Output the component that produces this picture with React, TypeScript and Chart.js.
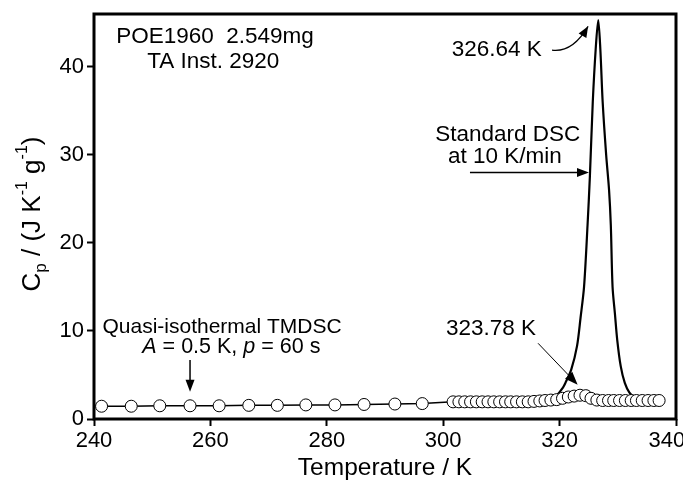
import React, { useEffect, useRef } from 'react';
import { Chart, registerables } from 'chart.js';

Chart.register(...registerables);

// Quasi-isothermal TMDSC points (open circles)
const tmdscTemps = [
  241.3, 246.4, 251.3, 256.5, 261.5, 266.6, 271.5, 276.4, 281.4, 286.4, 291.7, 296.4,
  301.7, 302.7, 303.7, 304.7, 305.7, 306.7, 307.7, 308.7, 309.7, 310.7, 311.6, 312.6,
  313.6, 314.6, 315.6, 316.6, 317.5, 318.5, 319.5, 320.5, 321.5, 322.5, 323.5, 324.5,
  325.4, 326.4, 327.4, 328.4, 329.3, 330.3, 331.3, 332.3, 333.2, 334.2, 335.2, 336.2, 337.1,
];
const tmdscCp = [
  1.45, 1.45, 1.5, 1.5, 1.5, 1.55, 1.55, 1.6, 1.6, 1.65, 1.7, 1.75,
  1.95, 1.95, 1.95, 1.95, 1.95, 1.95, 1.95, 1.95, 1.95, 1.95, 1.95, 1.95,
  1.95, 1.95, 2.0, 2.05, 2.1, 2.15, 2.2, 2.35, 2.5, 2.6, 2.7, 2.65,
  2.35, 2.15, 2.1, 2.1, 2.1, 2.1, 2.1, 2.1, 2.1, 2.1, 2.1, 2.1, 2.1,
];

// Standard DSC at 10 K/min (solid line)
const dscTemps = [
  316, 318, 319.5, 320.6, 321, 322, 323, 323.6, 324.2, 324.8, 325.2, 325.7, 326.2, 326.64,
  327.0, 327.4, 328.0, 328.5, 328.8, 329.1, 329.5, 329.9, 330.5, 331.2, 332, 333, 335,
];
const dscCp = [
  2.0, 2.2, 2.7, 3.6, 4.1, 5.6, 8.3, 11.5, 15.0, 22.0, 27.5, 36.0, 42.0, 45.3,
  42.0, 36.0, 30.0, 26.0, 22.0, 15.0, 12.0, 9.0, 6.0, 4.1, 3.0, 2.4, 2.1,
];

const xTickValues = [240, 260, 280, 300, 320, 340];
const yTickValues = [0, 10, 20, 30, 40];

const FONT = '"Liberation Sans", Arial, Helvetica, sans-serif';

type Seg = { t: string; italic?: boolean; size?: number; dy?: number };

function drawSegs(ctx: CanvasRenderingContext2D, segs: Seg[], cx: number, cy: number, base: number) {
  const fontFor = (s: Seg) => `${s.italic ? 'italic ' : ''}${s.size ?? base}px ${FONT}`;
  let total = 0;
  for (const s of segs) {
    ctx.font = fontFor(s);
    total += ctx.measureText(s.t).width;
  }
  let x = cx - total / 2;
  ctx.textAlign = 'left';
  ctx.textBaseline = 'middle';
  for (const s of segs) {
    ctx.font = fontFor(s);
    ctx.fillText(s.t, x, cy + (s.dy ?? 0));
    x += ctx.measureText(s.t).width;
  }
}

function arrowHead(ctx: CanvasRenderingContext2D, x1: number, y1: number, ang: number, len: number, w: number) {
  const c = Math.cos(ang), s = Math.sin(ang);
  const bx = x1 - len * c, by = y1 - len * s;
  ctx.beginPath();
  ctx.moveTo(x1, y1);
  ctx.lineTo(bx - w * s, by + w * c);
  ctx.lineTo(bx + w * s, by - w * c);
  ctx.closePath();
  ctx.fill();
}

function straightArrow(ctx: CanvasRenderingContext2D, x0: number, y0: number, x1: number, y1: number, lw: number, len: number, w: number) {
  const ang = Math.atan2(y1 - y0, x1 - x0);
  ctx.lineWidth = lw;
  ctx.beginPath();
  ctx.moveTo(x0, y0);
  ctx.lineTo(x1 - Math.cos(ang) * len * 0.7, y1 - Math.sin(ang) * len * 0.7);
  ctx.stroke();
  arrowHead(ctx, x1, y1, ang, len, w);
}

const decorPlugin = {
  id: 'decor',
  afterDraw(chart: any) {
    const { ctx, chartArea, scales } = chart;
    const X = (v: number) => scales.x.getPixelForValue(v);
    const Y = (v: number) => scales.y.getPixelForValue(v);
    ctx.save();
    ctx.strokeStyle = '#000';
    ctx.fillStyle = '#000';
    // frame
    ctx.lineWidth = 3;
    ctx.strokeRect(chartArea.left, chartArea.top, chartArea.right - chartArea.left, chartArea.bottom - chartArea.top);

    // annotations
    drawSegs(ctx, [{ t: 'POE1960  2.549mg' }], X(260.8), Y(43.4), 22.5);
    drawSegs(ctx, [{ t: 'TA Inst. 2920' }], X(260.5), Y(40.6), 22.5);
    drawSegs(ctx, [{ t: '326.64 K' }], X(309.2), Y(41.9), 22.5);
    drawSegs(ctx, [{ t: 'Standard DSC' }], X(311.1), Y(32.3), 22.5);
    drawSegs(ctx, [{ t: 'at 10 K/min' }], X(310.6), Y(29.8), 22.5);
    drawSegs(ctx, [{ t: 'Quasi-isothermal TMDSC' }], X(262.0), Y(10.45), 21);
    drawSegs(ctx, [
      { t: 'A', italic: true }, { t: ' = 0.5 K, ' }, { t: 'p', italic: true }, { t: ' = 60 s' },
    ], X(263.6), Y(8.2), 21.5);
    drawSegs(ctx, [{ t: '323.78 K' }], X(308.2), Y(10.3), 22.5);

    // curved arrow to peak
    const sx = X(318.7), sy = Y(41.9);
    const qx = X(322.2), qy = Y(41.6);
    const ex = X(324.9), ey = Y(44.6);
    ctx.lineWidth = 1.2;
    ctx.beginPath();
    ctx.moveTo(sx, sy);
    ctx.quadraticCurveTo(qx, qy, ex, ey);
    ctx.stroke();
    arrowHead(ctx, ex, ey, Math.atan2(ey - qy, ex - qx), 11, 4.5);

    // horizontal arrow to DSC curve
    straightArrow(ctx, X(304.6), Y(28.0), X(325.05), Y(28.0), 1.5, 12, 4.5);
    // vertical arrow to TMDSC points
    straightArrow(ctx, X(256.5), Y(6.7), X(256.5), Y(3.1), 1.5, 12, 4.5);
    // thin arrow to 323.78 K
    straightArrow(ctx, X(316.3), Y(8.6), X(323.1), Y(3.9), 1, 13, 5);

    // axis titles
    drawSegs(ctx, [{ t: 'Temperature / K' }], (chartArea.left + chartArea.right) / 2, 468, 24.5);
    ctx.save();
    ctx.translate(33, 214);
    ctx.rotate(-Math.PI / 2);
    drawSegs(ctx, [
      { t: 'C', size: 26 }, { t: 'p', size: 17, dy: 8 }, { t: ' / (J K', size: 26 },
      { t: '-1', size: 16, dy: -10 }, { t: ' g', size: 26 }, { t: '-1', size: 16, dy: -10 }, { t: ')', size: 26 },
    ], 0, 0, 26);
    ctx.restore();
    ctx.restore();
  },
};

export default function App() {
  const ref = useRef<HTMLCanvasElement | null>(null);
  useEffect(() => {
    document.body.style.margin = '0';
    const canvas = ref.current!;
    const chart = new Chart(canvas, {
      type: 'scatter',
      data: {
        datasets: [
          {
            label: 'Standard DSC',
            data: dscTemps.map((x, i) => ({ x, y: dscCp[i] })),
            showLine: true,
            borderColor: '#000',
            borderWidth: 2.2,
            pointRadius: 0,
            tension: 0.3,
            order: 2,
          },
          {
            label: 'Quasi-isothermal TMDSC',
            data: tmdscTemps.map((x, i) => ({ x, y: tmdscCp[i] })),
            showLine: true,
            borderColor: '#000',
            borderWidth: 1.5,
            pointRadius: 6,
            pointBorderWidth: 1,
            pointBorderColor: '#000',
            pointBackgroundColor: '#fff',
            order: 1,
          },
        ],
      },
      options: {
        responsive: false,
        animation: false,
        layout: { padding: { top: 14, right: 7, left: 0, bottom: 0 } },
        plugins: { legend: { display: false }, tooltip: { enabled: false }, title: { display: false } },
        scales: {
          x: {
            type: 'linear',
            min: 240,
            max: 340,
            afterBuildTicks: (s: any) => { s.ticks = xTickValues.map((v) => ({ value: v })); },
            afterFit: (s: any) => { s.height = 63; s.paddingLeft = 0; s.paddingRight = 0; },
            grid: { display: true, drawOnChartArea: false, drawTicks: true, tickLength: 7, tickWidth: 2, tickColor: '#000' },
            border: { display: false },
            ticks: {
              color: '#000',
              font: { size: 22, family: FONT },
              padding: 2,
              maxRotation: 0,
              autoSkip: false,
              callback: (v: any) => (v === 340 ? '340   ' : String(v)),
            },
          },
          y: {
            type: 'linear',
            min: 0,
            max: 46,
            afterBuildTicks: (s: any) => { s.ticks = yTickValues.map((v) => ({ value: v })); },
            afterFit: (s: any) => { s.width = 94; s.paddingTop = 0; s.paddingBottom = 0; },
            grid: { display: true, drawOnChartArea: false, drawTicks: true, tickLength: 7, tickWidth: 2, tickColor: '#000' },
            border: { display: false },
            ticks: {
              color: '#000',
              font: { size: 22, family: FONT },
              padding: 3,
              autoSkip: false,
            },
          },
        },
      },
      plugins: [decorPlugin],
    });
    return () => chart.destroy();
  }, []);
  return <canvas ref={ref} width={683} height={482} style={{ display: 'block' }} />;
}
